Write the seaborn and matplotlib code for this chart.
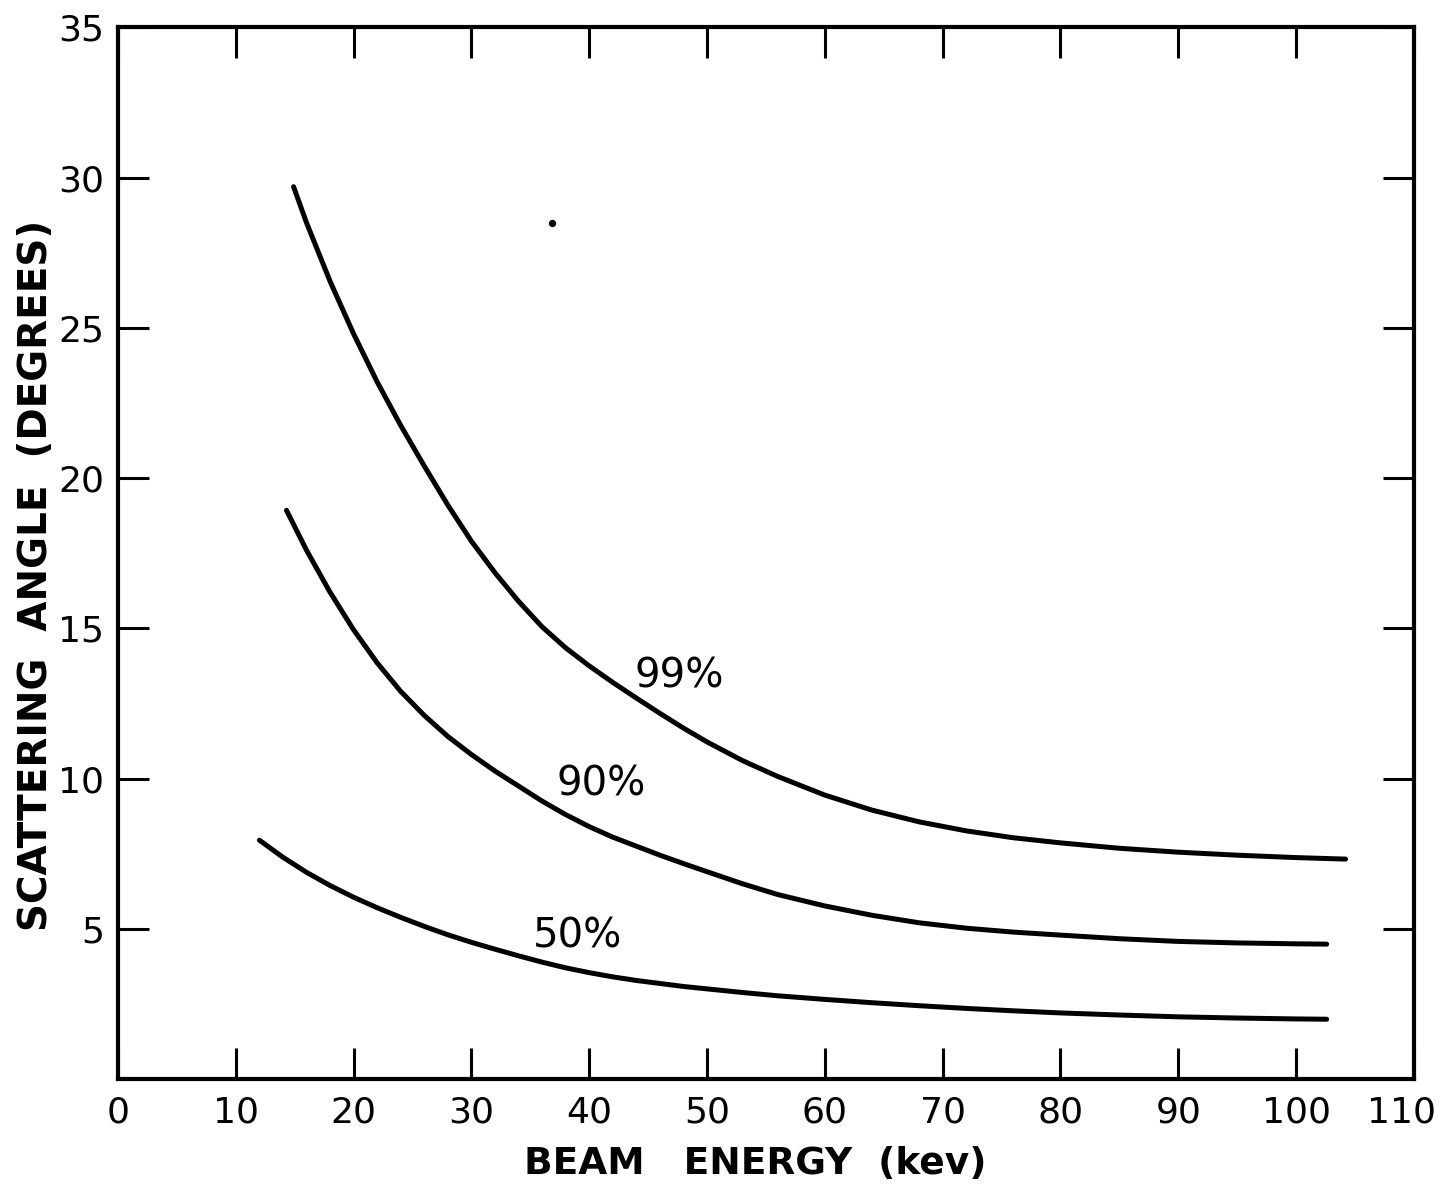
import matplotlib
matplotlib.use("Agg")
import matplotlib.pyplot as plt
import matplotlib.transforms as mtransforms
import seaborn as sns
import pandas as pd

# ---- data ----
energy_99 = [14.9, 16, 18, 20, 22, 24, 26, 28, 30, 32, 34, 36, 38, 40, 42, 44, 46, 48, 50,
             53, 56, 60, 64, 68, 72, 76, 80, 85, 90, 95, 100, 104.2]
angle_99  = [29.7, 28.5, 26.55, 24.8, 23.2, 21.75, 20.4, 19.1, 17.9, 16.85, 15.9, 15.05, 14.35,
             13.75, 13.2, 12.68, 12.17, 11.68, 11.22, 10.6, 10.07, 9.45, 8.95, 8.56, 8.26, 8.03,
             7.86, 7.68, 7.55, 7.45, 7.37, 7.32]

energy_90 = [14.3, 16, 18, 20, 22, 24, 26, 28, 30, 32, 34, 36, 38, 40, 42, 44, 46, 48, 50,
             53, 56, 60, 64, 68, 72, 76, 80, 85, 90, 95, 100, 102.6]
angle_90  = [18.93, 17.6, 16.2, 14.95, 13.85, 12.9, 12.1, 11.4, 10.8, 10.25, 9.75, 9.25, 8.8,
             8.4, 8.05, 7.75, 7.45, 7.17, 6.9, 6.5, 6.14, 5.76, 5.45, 5.2, 5.02, 4.89, 4.79,
             4.67, 4.58, 4.53, 4.5, 4.49]

energy_50 = [12, 14, 16, 18, 20, 22, 24, 26, 28, 30, 32, 34, 36, 38, 40, 42, 44, 46, 48, 50,
             53, 56, 60, 64, 68, 72, 76, 80, 85, 90, 95, 100, 102.6]
angle_50  = [7.95, 7.38, 6.88, 6.44, 6.05, 5.7, 5.38, 5.08, 4.8, 4.55, 4.32, 4.1, 3.89, 3.7,
             3.54, 3.4, 3.28, 3.18, 3.08, 3.0, 2.88, 2.77, 2.65, 2.54, 2.44, 2.35, 2.27, 2.2,
             2.13, 2.07, 2.03, 2.0, 1.99]

curve_labels = ["99%", "90%", "50%"]
label_x = [47.6, 41.0, 39.0]
label_y = [13.4, 9.8, 4.75]

artifact_x = [36.8]
artifact_y = [28.5]

x_ticks = [0, 10, 20, 30, 40, 50, 60, 70, 80, 90, 100, 110]
y_ticks = [5, 10, 15, 20, 25, 30, 35]

frames = []
for name, ex, ay in [("99%", energy_99, angle_99), ("90%", energy_90, angle_90), ("50%", energy_50, angle_50)]:
    frames.append(pd.DataFrame({"energy": ex, "angle": ay, "curve": name}))
df = pd.concat(frames, ignore_index=True)

sns.set_style("ticks")
plt.rcParams["font.family"] = ["DejaVu Sans"]

fig = plt.figure(figsize=(14.43, 11.94), dpi=100)
ax = fig.add_axes([0.0818, 0.0963, 0.898, 0.8807])

for name in curve_labels:
    sub = df[df["curve"] == name]
    sns.lineplot(data=sub, x="energy", y="angle", ax=ax, color="black",
                 linewidth=3.6, sort=False, estimator=None,
                 solid_capstyle="round", solid_joinstyle="round", legend=False)

ax.scatter(artifact_x, artifact_y, s=18, color="black", zorder=3)

for t, lx, ly in zip(curve_labels, label_x, label_y):
    ax.text(lx, ly, t, fontsize=29, ha="center", va="center", color="black")

ax.set_xlim(0, 110)
ax.set_ylim(0, 35)
ax.set_xticks(x_ticks)
ax.set_yticks(y_ticks)
ax.set_xticklabels([str(v) for v in x_ticks])
ax.set_yticklabels([str(v) for v in y_ticks])

for side in ["left", "right", "top", "bottom"]:
    ax.spines[side].set_visible(True)
    ax.spines[side].set_linewidth(3.0)
    ax.spines[side].set_color("black")

ax.tick_params(axis="both", which="major", direction="in", length=22,
               width=2.2, color="black", labelcolor="black", labelsize=26,
               top=True, right=True, labeltop=False, labelright=False)
ax.tick_params(axis="x", pad=12)
ax.tick_params(axis="y", pad=10)

# nudge the last x tick label ("110") left so it stays inside the figure
lbls = ax.get_xticklabels()
shift = mtransforms.ScaledTranslation(-12 / 100, 0, fig.dpi_scale_trans)
lbls[-1].set_transform(lbls[-1].get_transform() + shift)

ax.set_xlabel("BEAM   ENERGY  (kev)", fontsize=27, fontweight="bold", color="black")
ax.xaxis.set_label_coords(0.4915, -0.064)
ax.set_ylabel("SCATTERING  ANGLE  (DEGREES)", fontsize=28, fontweight="bold",
              color="black", family=["Liberation Sans Narrow", "DejaVu Sans"])
ax.yaxis.set_label_coords(-0.049, 0.479)

fig.savefig("out.png", dpi=100, facecolor="white")
